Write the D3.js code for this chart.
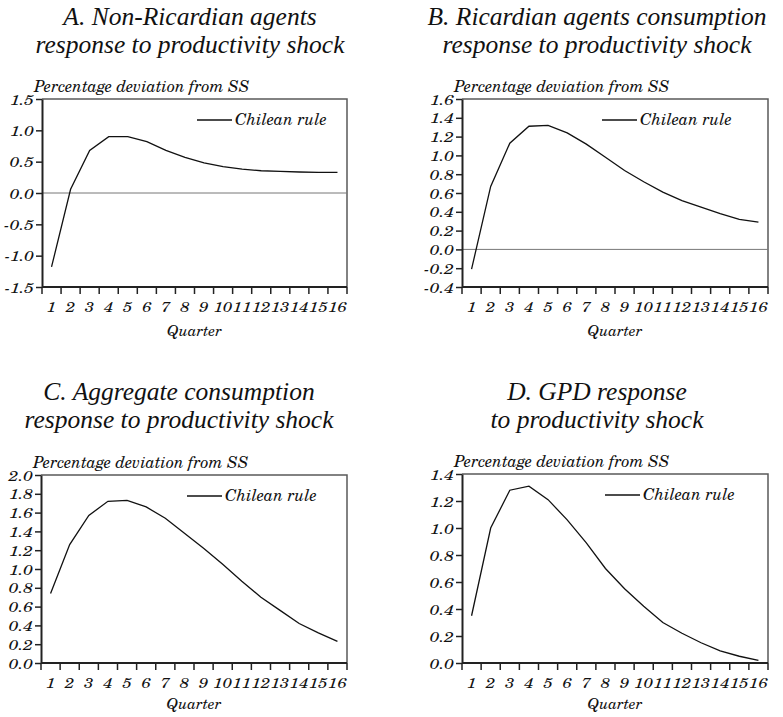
<!DOCTYPE html>
<html>
<head>
<meta charset="utf-8">
<script src="https://cdn.jsdelivr.net/npm/d3@7"></script>
</head>
<body style="margin:0;background:#fff">
<script>
// impulse responses, quarters 1..16, percentage deviation from SS
const quarters = d3.range(1, 17);
const nonRicardian = [-1.18, 0.06, 0.68, 0.90, 0.90, 0.82, 0.68, 0.57, 0.48, 0.42, 0.38, 0.355, 0.345, 0.335, 0.33, 0.33];
const ricardian = [-0.21, 0.67, 1.13, 1.31, 1.32, 1.24, 1.12, 0.98, 0.84, 0.72, 0.61, 0.52, 0.45, 0.38, 0.32, 0.29];
const aggregate = [0.74, 1.26, 1.57, 1.72, 1.73, 1.66, 1.54, 1.38, 1.22, 1.05, 0.87, 0.70, 0.56, 0.42, 0.32, 0.23];
const gdp = [0.35, 1.00, 1.28, 1.31, 1.21, 1.06, 0.89, 0.70, 0.55, 0.42, 0.30, 0.22, 0.15, 0.09, 0.05, 0.02];

const titles = [
  ['A. Non-Ricardian agents', 'response to productivity shock'],
  ['B. Ricardian agents consumption', 'response to productivity shock'],
  ['C. Aggregate consumption', 'response to productivity shock'],
  ['D. GPD response', 'to productivity shock']
];
const yTicks = [
  [-1.5, -1.0, -0.5, 0.0, 0.5, 1.0, 1.5],
  [-0.4, -0.2, 0.0, 0.2, 0.4, 0.6, 0.8, 1.0, 1.2, 1.4, 1.6],
  [0.0, 0.2, 0.4, 0.6, 0.8, 1.0, 1.2, 1.4, 1.6, 1.8, 2.0],
  [0.0, 0.2, 0.4, 0.6, 0.8, 1.0, 1.2, 1.4]
];
const series = [nonRicardian, ricardian, aggregate, gdp];

const W = 783, H = 717;
const titleFont = '"Liberation Serif", "Times New Roman", serif';
const bodyFont = '"TeX Gyre Schola", "DejaVu Serif", serif';
const ink = '#111';

const svg = d3.select('body').append('svg').attr('width', W).attr('height', H);

const panels = [
  {x0: 42, x1: 347, y0: 99, y1: 287, tx: 190, ty: 25, leg: 155},
  {x0: 462, x1: 768, y0: 99, y1: 287, tx: 597, ty: 25, leg: 140},
  {x0: 41, x1: 347, y0: 475, y1: 663, tx: 179, ty: 400, leg: 146},
  {x0: 462, x1: 768, y0: 474, y1: 663, tx: 597, ty: 400, leg: 143}
];

function italic(sel, family, size) {
  return sel.style('font-family', family).style('font-style', 'italic')
    .style('font-size', size + 'px').attr('fill', ink);
}

panels.forEach(function(p, i) {
  const g = svg.append('g');
  const ticks = yTicks[i];
  const x = d3.scaleBand().domain(quarters).range([p.x0, p.x1]);
  const y = d3.scaleLinear().domain([ticks[0], ticks[ticks.length - 1]]).range([p.y1, p.y0]);
  const cx = d => x(d) + x.bandwidth() / 2;

  // title
  titles[i].forEach(function(t, k) {
    italic(g.append('text'), titleFont, 25.5)
      .attr('x', p.tx).attr('y', p.ty + k * 28)
      .attr('text-anchor', 'middle').text(t);
  });

  // frame top/right
  g.append('path')
    .attr('d', `M${p.x0},${p.y0}H${p.x1}V${p.y1}`)
    .attr('fill', 'none').attr('stroke', '#5a5a5a').attr('stroke-width', 1.5);

  // zero line
  if (ticks[0] < 0) {
    g.append('line')
      .attr('x1', p.x0).attr('x2', p.x1)
      .attr('y1', y(0)).attr('y2', y(0))
      .attr('stroke', '#777').attr('stroke-width', 1);
  }

  // y axis (plain hyphen for negatives, as in the original)
  const yAxis = g.append('g').attr('transform', `translate(${p.x0},0)`)
    .call(d3.axisLeft(y).tickValues(ticks).tickFormat(d => d.toFixed(1))
      .tickSize(6).tickSizeOuter(0).tickPadding(2));
  yAxis.select('.domain').attr('stroke', '#222').attr('stroke-width', 2);
  yAxis.selectAll('.tick line').attr('stroke', '#222').attr('stroke-width', 1.5);
  italic(yAxis.selectAll('.tick text'), bodyFont, 14)
    .attr('x', null).attr('dy', '0.36em')
    .attr('transform', 'translate(-8,0) scale(1.25,1)');

  // x axis: ticks at band edges, labels at band centres
  const edges = quarters.map(q => x(q)).concat([p.x1]);
  const xAxis = g.append('g').attr('transform', `translate(0,${p.y1})`);
  xAxis.append('line').attr('x1', p.x0).attr('x2', p.x1)
    .attr('stroke', '#222').attr('stroke-width', 2);
  xAxis.selectAll('line.edge').data(edges).enter().append('line')
    .attr('class', 'edge')
    .attr('x1', d => d).attr('x2', d => d).attr('y1', 0).attr('y2', 7)
    .attr('stroke', '#222').attr('stroke-width', 1.5);
  italic(xAxis.selectAll('text.q').data(quarters).enter().append('text'), bodyFont, 14)
    .attr('class', 'q')
    .attr('transform', d => `translate(${cx(d)},25) scale(1.2,1)`)
    .attr('text-anchor', 'middle').text(d => d);
  italic(g.append('text'), bodyFont, 15)
    .attr('x', (p.x0 + p.x1) / 2).attr('y', p.y1 + (i < 2 ? 49 : 46))
    .attr('text-anchor', 'middle').text('Quarter');

  // y label
  italic(g.append('text'), bodyFont, 16)
    .attr('x', p.x0 - 8).attr('y', p.y0 - 7).text('Percentage deviation from SS');

  // series line
  const line = d3.line()
    .x((d, j) => cx(quarters[j]))
    .y(d => y(d));
  g.append('path').datum(series[i])
    .attr('d', line).attr('fill', 'none')
    .attr('stroke', ink).attr('stroke-width', 1.3);

  // legend
  const ly = p.y0 + 21;
  g.append('line').attr('x1', p.x0 + p.leg).attr('x2', p.x0 + p.leg + 35)
    .attr('y1', ly).attr('y2', ly).attr('stroke', ink).attr('stroke-width', 1.3);
  italic(g.append('text'), bodyFont, 16)
    .attr('x', p.x0 + p.leg + 38).attr('y', ly + 5).text('Chilean rule');
});
</script>
</body>
</html>
